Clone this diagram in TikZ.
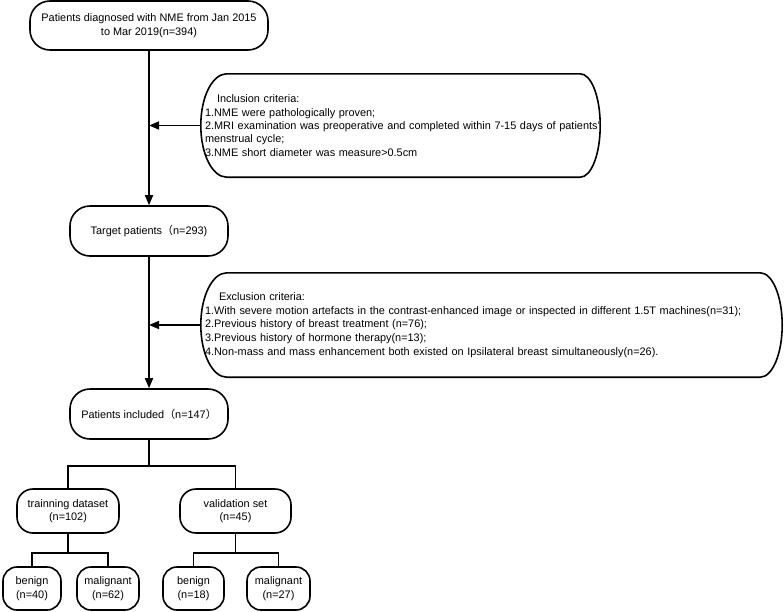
\documentclass[tikz,border=0pt]{standalone}
\usepackage{fontspec}
\setmainfont{Liberation Sans}
\newfontfamily\cjk{Noto Sans CJK SC}
\usetikzlibrary{arrows.meta,calc}
\begin{document}
\begin{tikzpicture}[x=1pt,y=-1pt,
  font=\fontsize{10.9}{13.4}\selectfont,
  box/.style={draw, line width=1.6pt, rounded corners=#1, inner sep=0pt, align=center},
  crit/.style={draw=none, inner xsep=4pt, inner ysep=0pt, align=left},
  line/.style={line width=1.6pt},
  arr/.style={line width=1.6pt, -{Triangle[length=10pt,width=8pt]}},
]
\useasboundingbox (0,0) rectangle (784,611);

\node[box=20pt, minimum width=238pt, minimum height=49pt] (top) at (149,25.5)
  {Patients diagnosed with NME from Jan 2015\\to Mar 2019(n=394)};
\node[box=20pt, minimum width=158pt, minimum height=50pt] (target) at (149,231)
  {Target patients{\cjk（}n=293)};
\node[box=20pt, minimum width=158pt, minimum height=50pt] (pinc) at (149,414)
  {Patients included{\cjk（}n=147{\cjk）}};
\node[box=16pt, minimum width=102pt, minimum height=44pt] (train) at (68,511)
  {trainning dataset\\(n=102)};
\node[box=16pt, minimum width=111pt, minimum height=44pt] (valid) at (235.5,511)
  {validation set\\(n=45)};
\node[box=14pt, minimum width=58pt, minimum height=43pt] (b1) at (32,588.5)
  {benign\\(n=40)};
\node[box=14pt, minimum width=62pt, minimum height=43pt] (m1) at (108,588.5)
  {malignant\\(n=62)};
\node[box=14pt, minimum width=61pt, minimum height=43pt] (b2) at (193.5,588.5)
  {benign\\(n=18)};
\node[box=14pt, minimum width=63pt, minimum height=43pt] (m2) at (278.5,588.5)
  {malignant\\(n=27)};

% criteria boxes
\node[crit, minimum width=399pt, minimum height=103pt, text width=391pt] (inc) at (400.5,125.5)
  {\hspace*{12pt}Inclusion criteria:\\
   1.NME were pathologically proven;\\
   \mbox{2.MRI examination was preoperative and completed within 7-15 days of patients'}\\
   menstrual cycle;\\
   3.NME short diameter was measure>0.5cm};
\node[crit, minimum width=581pt, minimum height=104pt, text width=573pt,
      font=\fontsize{10.9}{13.6}\selectfont] (exc) at (491.5,325)
  {\hspace*{14pt}Exclusion criteria:\\
   \mbox{1.With severe motion artefacts in the contrast-enhanced image or inspected in different 1.5T machines(n=31);}\\
   2.Previous history of breast treatment (n=76);\\
   3.Previous history of hormone therapy(n=13);\\
   \mbox{4.Non-mass and mass enhancement both existed on Ipsilateral breast simultaneously(n=26).}};

\foreach \n/\rl/\rr in {inc/26/20, exc/26/22}{
  \draw[line]
    ($(\n.north west)+(\rl,0)$) -- ($(\n.north east)+(-\rr,0)$)
    .. controls ($(\n.north east)+(-0.45*\rr,0)$) and ($(\n.east)+(0,-29)$) .. (\n.east)
    .. controls ($(\n.east)+(0,29)$) and ($(\n.south east)+(-0.45*\rr,0)$) .. ($(\n.south east)+(-\rr,0)$)
    -- ($(\n.south west)+(\rl,0)$)
    .. controls ($(\n.south west)+(0.45*\rl,0)$) and ($(\n.west)+(0,29)$) .. (\n.west)
    .. controls ($(\n.west)+(0,-29)$) and ($(\n.north west)+(0.45*\rl,0)$) .. ($(\n.north west)+(\rl,0)$)
    -- cycle;
}

% main connectors
\coordinate (j1) at (149,125.5);
\coordinate (j2) at (149,325);
\draw[arr] (top.south) -- (target.north);
\draw[arr] (target.south) -- (pinc.north);
\draw[arr] (inc.west) -- (j1);
\draw[arr] (exc.west) -- (j2);

% tree
\coordinate (s1) at (149,466);
\coordinate (s2) at (68,553);
\coordinate (s3) at (235.5,553);
\draw[line] (pinc.south) -- (s1);
\draw[line] (train.north) |- (s1) -| (valid.north);
\draw[line] (train.south) -- (s2);
\draw[line] (b1.north) |- (s2) -| (m1.north);
\draw[line] (valid.south) -- (s3);
\draw[line] (b2.north) |- (s3) -| (m2.north);
\end{tikzpicture}
\end{document}
